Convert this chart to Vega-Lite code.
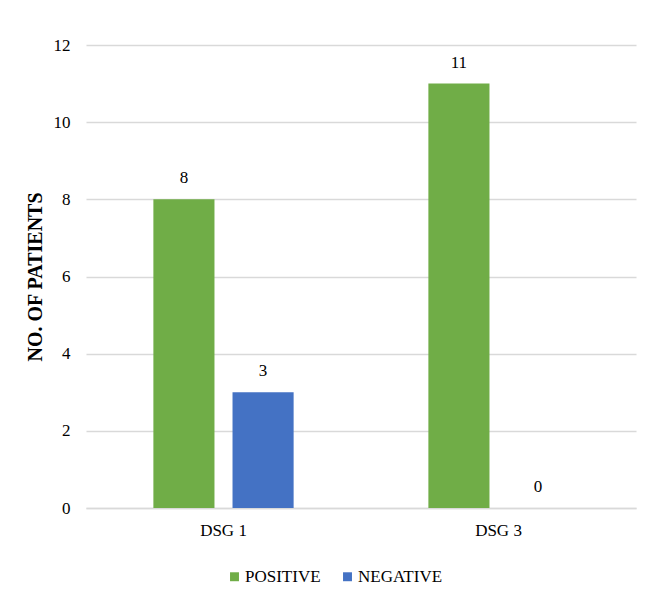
{
  "$schema": "https://vega.github.io/schema/vega-lite/v6.json",
  "width": 550,
  "height": 463,
  "padding": {"left": 25, "top": 36, "right": 16, "bottom": 10},
  "background": "white",
  "config": {
    "font": "Liberation Serif",
    "view": {"stroke": null},
    "axis": {"labelFont": "Liberation Serif", "titleFont": "Liberation Serif", "labelColor": "#000000", "titleColor": "#000000"},
    "legend": {"labelFont": "Liberation Serif", "labelColor": "#000000"},
    "text": {"font": "Liberation Serif"}
  },
  "data": {
    "values": [
      {"group": "DSG 1", "result": "POSITIVE", "count": 8},
      {"group": "DSG 1", "result": "NEGATIVE", "count": 3},
      {"group": "DSG 3", "result": "POSITIVE", "count": 11},
      {"group": "DSG 3", "result": "NEGATIVE", "count": 0}
    ]
  },
  "encoding": {
    "x": {
      "field": "group",
      "type": "nominal",
      "scale": {"paddingInner": 0.49, "paddingOuter": 0.245},
      "axis": {"title": null, "labelAngle": 0, "labelFontSize": 17, "labelPadding": 14, "ticks": false, "domainColor": "#d9d9d9", "domainWidth": 1.5}
    },
    "xOffset": {
      "field": "result",
      "type": "nominal",
      "sort": ["POSITIVE", "NEGATIVE"],
      "scale": {"paddingInner": 0.228, "paddingOuter": 0}
    },
    "y": {
      "field": "count",
      "type": "quantitative",
      "scale": {"domain": [0, 12]},
      "axis": {"title": "NO. OF PATIENTS", "titleFontSize": 20, "titleFontWeight": "bold", "titlePadding": 8, "labelFontSize": 17, "labelPadding": 16, "ticks": false, "domain": false, "values": [0, 2, 4, 6, 8, 10, 12], "labelOverlap": false, "gridColor": "#d9d9d9", "gridWidth": 1.5}
    }
  },
  "layer": [
    {
      "mark": {"type": "bar"},
      "encoding": {
        "color": {
          "field": "result",
          "type": "nominal",
          "scale": {"domain": ["POSITIVE", "NEGATIVE"], "range": ["#70AD47", "#4472C4"]},
          "legend": {"title": null, "orient": "none", "legendX": 140, "legendY": 523, "direction": "horizontal", "symbolType": "square", "symbolSize": 80, "symbolStrokeWidth": 0, "labelFontSize": 17, "labelOffset": 2, "columnPadding": 18}
        }
      }
    },
    {
      "mark": {"type": "text", "dy": -21, "fontSize": 17, "color": "#000000"},
      "encoding": {"text": {"field": "count", "type": "quantitative"}}
    }
  ]
}
